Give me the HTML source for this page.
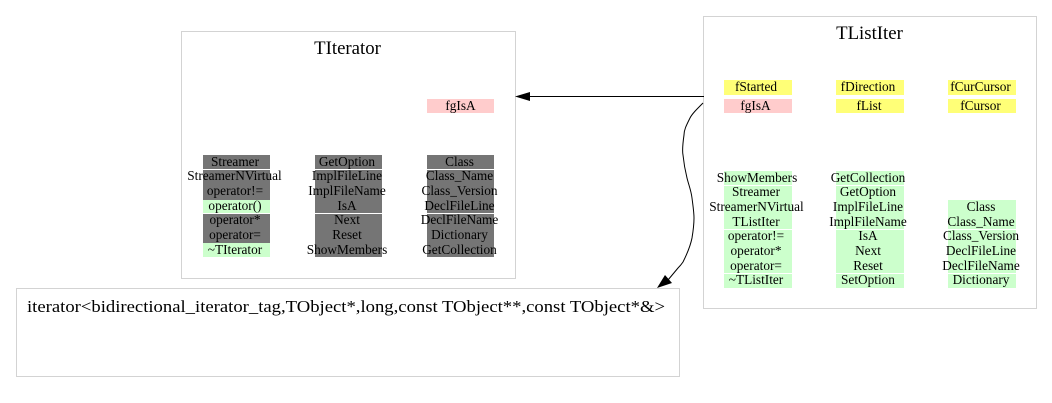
<!DOCTYPE html>
<html>
<head>
<meta charset="utf-8">
<style>
html,body{margin:0;padding:0;background:#fff;width:1052px;height:403px;overflow:hidden}
svg{display:block}
text{font-family:"Liberation Serif",serif;fill:#000}
.s{font-size:13.3px;text-anchor:middle}
.t{font-size:18.8px;text-anchor:middle}
</style>
</head>
<body>
<svg width="1052" height="403" viewBox="0 0 1052 403" xmlns="http://www.w3.org/2000/svg">
<rect width="1052" height="403" fill="#fff"/>
<!-- boxes -->
<g fill="#fff" stroke="#d3d3d3" stroke-width="1">
<rect x="181.5" y="31.5" width="334" height="247"/>
<rect x="703.5" y="16.5" width="333" height="292"/>
<rect x="16.5" y="288.5" width="663" height="88"/>
</g>
<!-- TIterator cells -->
<rect x="427" y="99" width="67" height="14" fill="#ffcccc"/>
<g fill="#757575">
<rect x="203" y="155" width="67" height="14"/>
<rect x="203" y="170" width="67" height="30"/>
<rect x="203" y="214" width="67" height="29"/>
<rect x="315" y="155" width="67" height="14"/>
<rect x="315" y="170" width="67" height="43"/>
<rect x="315" y="214" width="67" height="43"/>
<rect x="427" y="155" width="67" height="14"/>
<rect x="427" y="170" width="67" height="43"/>
<rect x="427" y="214" width="67" height="43"/>
</g>
<g fill="#ccffcc">
<rect x="203" y="200" width="67" height="13"/>
<rect x="203" y="243" width="67" height="14"/>
</g>
<!-- TListIter cells -->
<g fill="#ffff77">
<rect x="724" y="80" width="68" height="15"/>
<rect x="836" y="80" width="68" height="15"/>
<rect x="948" y="80" width="68" height="15"/>
<rect x="836" y="99" width="68" height="14"/>
<rect x="948" y="99" width="68" height="14"/>
</g>
<rect x="724" y="99" width="68" height="14" fill="#ffcccc"/>
<g fill="#ccffcc">
<rect x="724" y="171" width="68" height="14"/>
<rect x="724" y="186" width="68" height="43"/>
<rect x="724" y="230" width="68" height="43"/>
<rect x="724" y="274" width="68" height="14"/>
<rect x="836" y="171" width="68" height="14"/>
<rect x="836" y="186" width="68" height="43"/>
<rect x="836" y="230" width="68" height="43"/>
<rect x="836" y="274" width="68" height="14"/>
<rect x="948" y="200" width="68" height="29"/>
<rect x="948" y="230" width="68" height="43"/>
<rect x="948" y="274" width="68" height="14"/>
</g>
<!-- titles -->
<text class="t" x="347.5" y="54">TIterator</text>
<text class="t" x="869.5" y="39">TListIter</text>
<text x="27" y="312" font-size="17.2" textLength="638" lengthAdjust="spacingAndGlyphs">iterator&lt;bidirectional_iterator_tag,TObject*,long,const TObject**,const TObject*&amp;&gt;</text>
<!-- TIterator labels -->
<g>
<text class="s" x="460.5" y="110">fgIsA</text>
<text class="s" x="235" y="166">Streamer</text>
<text class="s" x="234.5" y="180">StreamerNVirtual</text>
<text class="s" x="235" y="195">operator!=</text>
<text class="s" x="235" y="210">operator()</text>
<text class="s" x="235" y="224">operator*</text>
<text class="s" x="235" y="239">operator=</text>
<text class="s" x="235" y="254">~TIterator</text>
<text class="s" x="347" y="166">GetOption</text>
<text class="s" x="347" y="180">ImplFileLine</text>
<text class="s" x="347" y="195">ImplFileName</text>
<text class="s" x="347" y="210">IsA</text>
<text class="s" x="347" y="224">Next</text>
<text class="s" x="347" y="239">Reset</text>
<text class="s" x="347" y="254">ShowMembers</text>
<text class="s" x="459.5" y="166">Class</text>
<text class="s" x="459.5" y="180">Class_Name</text>
<text class="s" x="459.5" y="195">Class_Version</text>
<text class="s" x="459.5" y="210">DeclFileLine</text>
<text class="s" x="459.5" y="224">DeclFileName</text>
<text class="s" x="459.5" y="239">Dictionary</text>
<text class="s" x="459.5" y="254">GetCollection</text>
</g>
<!-- TListIter labels -->
<g>
<text class="s" x="756" y="91">fStarted</text>
<text class="s" x="755.5" y="110">fgIsA</text>
<text class="s" x="868" y="91">fDirection</text>
<text class="s" x="869" y="110">fList</text>
<text class="s" x="980.5" y="91">fCurCursor</text>
<text class="s" x="980.5" y="110">fCursor</text>
<text class="s" x="757" y="182">ShowMembers</text>
<text class="s" x="756" y="196">Streamer</text>
<text class="s" x="756.5" y="211">StreamerNVirtual</text>
<text class="s" x="756" y="226">TListIter</text>
<text class="s" x="756" y="240">operator!=</text>
<text class="s" x="756" y="255">operator*</text>
<text class="s" x="756" y="270">operator=</text>
<text class="s" x="756" y="284">~TListIter</text>
<text class="s" x="868" y="182">GetCollection</text>
<text class="s" x="868" y="196">GetOption</text>
<text class="s" x="868" y="211">ImplFileLine</text>
<text class="s" x="868" y="226">ImplFileName</text>
<text class="s" x="868" y="240">IsA</text>
<text class="s" x="868" y="255">Next</text>
<text class="s" x="868" y="270">Reset</text>
<text class="s" x="868" y="284">SetOption</text>
<text class="s" x="981" y="211">Class</text>
<text class="s" x="981" y="226">Class_Name</text>
<text class="s" x="981" y="240">Class_Version</text>
<text class="s" x="981" y="255">DeclFileLine</text>
<text class="s" x="981" y="270">DeclFileName</text>
<text class="s" x="981" y="284">Dictionary</text>
</g>
<!-- connectors -->
<path d="M704 96.5H527" fill="none" stroke="#000" stroke-width="1"/>
<polygon points="515,96.5 530,92 530,101" fill="#000"/>
<path d="M703 103C696 110 692 114 690 118C686 126 684 130 684 135C683 142 682 150 683 155C684 165 685 170 687 178C689 186 691 190 692 198C693 206 694 212 694 218C694 226 693 232 692 238C690 248 686 256 683 262C681 265 680 266 678 268L668 280" fill="none" stroke="#000" stroke-width="1"/>
<polygon points="657,288 665,275 672,283" fill="#000"/>
</svg>
</body>
</html>
